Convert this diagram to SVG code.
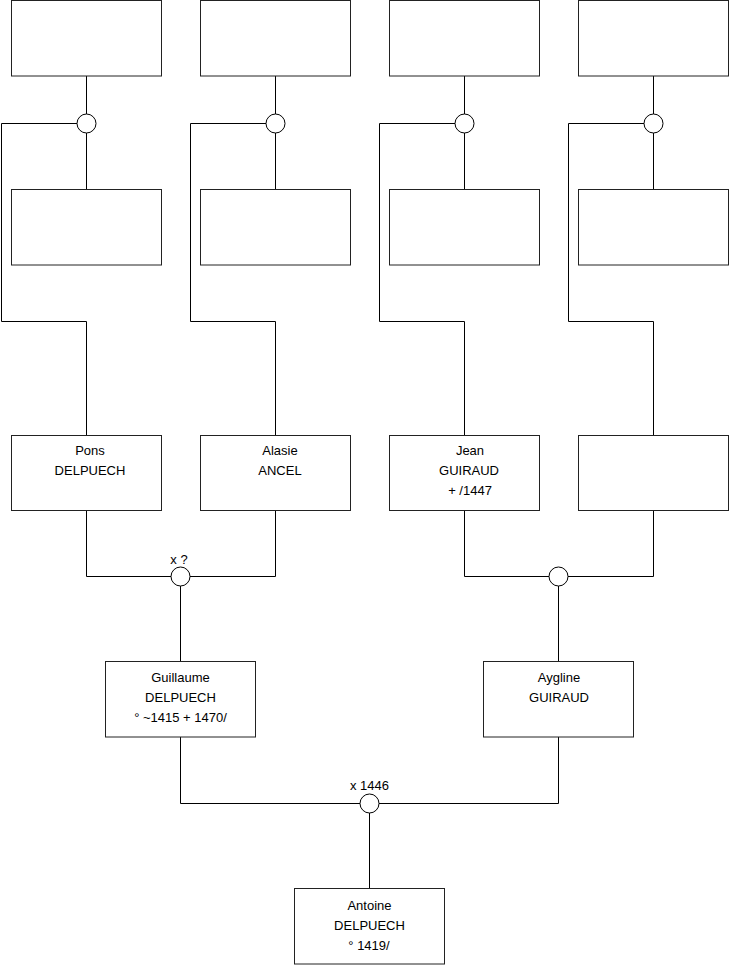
<svg xmlns="http://www.w3.org/2000/svg" width="740" height="975" viewBox="0 0 740 975">
<style>
.box{fill:#fff;stroke:#222;stroke-width:1}
.ln{fill:none;stroke:#000;stroke-width:1}
.ring{fill:#fff;stroke:#000;stroke-width:1}
text{font-family:"Liberation Sans",Arial,sans-serif;font-size:13px;fill:#000;text-anchor:middle}
</style>
<rect width="740" height="975" fill="#fff"/>
<g id="connectors">
<path class="ln" d="M86.5,76 V114 M86.5,133 V189.5 M77,123.5 H1.5 V321.5 H86.5 V435.5"/>
<path class="ln" d="M275.5,76 V114 M275.5,133 V189.5 M266,123.5 H190.5 V321.5 H275.5 V435.5"/>
<path class="ln" d="M464.5,76 V114 M464.5,133 V189.5 M455,123.5 H379.5 V321.5 H464.5 V435.5"/>
<path class="ln" d="M653.5,76 V114 M653.5,133 V189.5 M644,123.5 H568.5 V321.5 H653.5 V435.5"/>
<path class="ln" d="M86.5,510.5 V576.5 H171 M275.5,510.5 V576.5 H190 M180.5,586 V661.5"/>
<path class="ln" d="M464.5,510.5 V576.5 H549 M653.5,510.5 V576.5 H568 M558.5,586 V661.5"/>
<path class="ln" d="M180.5,737 V803.5 H360 M558.5,737 V803.5 H379 M369.5,813 V888.5"/>
</g>
<g id="union-1"><circle class="ring" cx="86.5" cy="123.5" r="9.5"/></g>
<g id="union-2"><circle class="ring" cx="275.5" cy="123.5" r="9.5"/></g>
<g id="union-3"><circle class="ring" cx="464.5" cy="123.5" r="9.5"/></g>
<g id="union-4"><circle class="ring" cx="653.5" cy="123.5" r="9.5"/></g>
<g id="union-5"><circle class="ring" cx="180.5" cy="576.5" r="9.5"/><text x="179" y="564">x ?</text></g>
<g id="union-6"><circle class="ring" cx="558.5" cy="576.5" r="9.5"/></g>
<g id="union-7"><circle class="ring" cx="369.5" cy="803.5" r="9.5"/><text x="369.5" y="790">x 1446</text></g>
<g id="p-top-1"><rect class="box" x="11.5" y="0.5" width="150" height="75.5"/></g>
<g id="p-top-2"><rect class="box" x="200.5" y="0.5" width="150" height="75.5"/></g>
<g id="p-top-3"><rect class="box" x="389.5" y="0.5" width="150" height="75.5"/></g>
<g id="p-top-4"><rect class="box" x="578.5" y="0.5" width="150" height="75.5"/></g>
<g id="p-mid-1"><rect class="box" x="11.5" y="189.5" width="150" height="75.5"/></g>
<g id="p-mid-2"><rect class="box" x="200.5" y="189.5" width="150" height="75.5"/></g>
<g id="p-mid-3"><rect class="box" x="389.5" y="189.5" width="150" height="75.5"/></g>
<g id="p-mid-4"><rect class="box" x="578.5" y="189.5" width="150" height="75.5"/></g>
<g id="pons"><rect class="box" x="11.5" y="435.5" width="150" height="75"/><text x="90" y="455">Pons</text><text x="90" y="475">DELPUECH</text></g>
<g id="alasie"><rect class="box" x="200.5" y="435.5" width="150" height="75"/><text x="280" y="455">Alasie</text><text x="280" y="475">ANCEL</text></g>
<g id="jean"><rect class="box" x="389.5" y="435.5" width="150" height="75"/><text x="470" y="455">Jean</text><text x="469" y="475">GUIRAUD</text><text x="470" y="495">+ /1447</text></g>
<g id="unknown"><rect class="box" x="578.5" y="435.5" width="150" height="75"/></g>
<g id="guillaume"><rect class="box" x="105.5" y="661.5" width="150" height="75.5"/><text x="180.5" y="682">Guillaume</text><text x="180.5" y="702">DELPUECH</text><text x="180.5" y="722">° ~1415 + 1470/</text></g>
<g id="aygline"><rect class="box" x="483.5" y="661.5" width="150" height="75.5"/><text x="559" y="682">Aygline</text><text x="559" y="702">GUIRAUD</text></g>
<g id="antoine"><rect class="box" x="294.5" y="888.5" width="150" height="75.5"/><text x="369.5" y="910">Antoine</text><text x="369.5" y="930">DELPUECH</text><text x="369" y="950">° 1419/</text></g>
</svg>
